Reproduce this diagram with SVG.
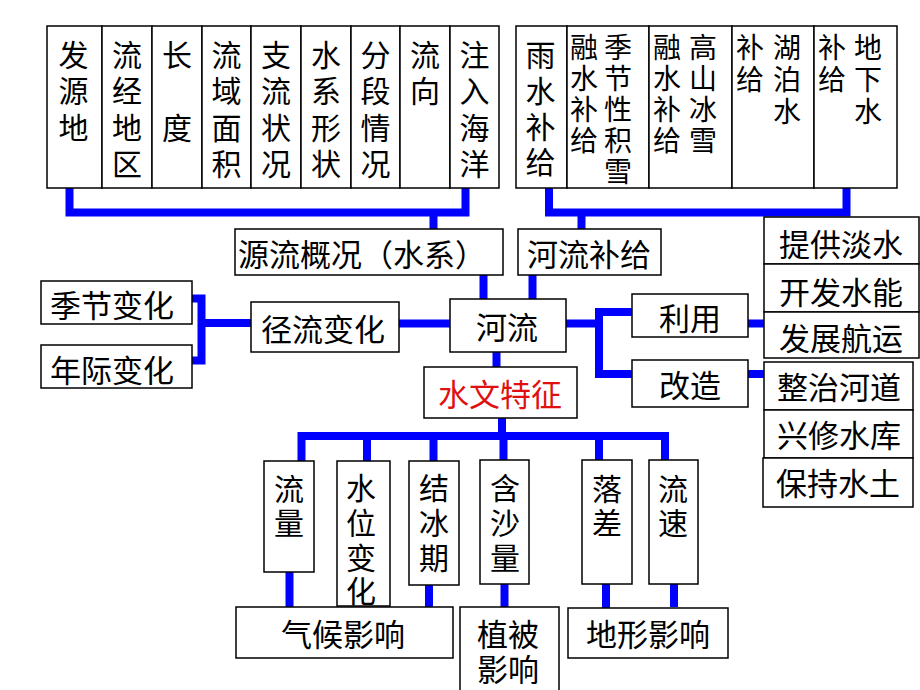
<svg xmlns="http://www.w3.org/2000/svg" width="920" height="690" viewBox="0 0 920 690">
<style>
.b{fill:#fff;stroke:#000;stroke-width:1.5}
.t{font-family:"Noto Sans CJK SC","Noto Sans CJK TC",sans-serif;fill:#000;text-anchor:middle;dominant-baseline:central}
.h{font-size:31px}
.v{font-size:30px}
.s{font-size:28px}
.c{fill:none;stroke:#0000ff;stroke-width:8;stroke-linejoin:miter;stroke-linecap:butt}
</style>
<rect width="920" height="690" fill="#fff"/>
<g id="connectors" class="c">
<path d="M69.5,188 V212.5 H465.5 V188"/>
<path d="M433.5,212.5 V229"/>
<path d="M549,188 V212.5 H846.5 V188"/>
<path d="M581.5,212.5 V229"/>
<path d="M483.5,275 V299"/>
<path d="M532.5,275 V299"/>
<path d="M399,323.5 H450"/>
<path d="M192,298.5 H201.5 V360.5 H192"/>
<path d="M201.5,323 H251"/>
<path d="M566,323.5 H599"/>
<path d="M632,312 H599 V374 H632"/>
<path d="M748,323.5 H764"/>
<path d="M748,374 H764"/>
<path d="M496.5,352 V367"/>
<path d="M502,418 V436"/>
<path d="M301.5,461 V436 H665 V461"/>
<path d="M367,436 V461"/>
<path d="M433.5,436 V461"/>
<path d="M503.5,436 V460"/>
<path d="M599,436 V460"/>
<path d="M289.5,572 V607"/>
<path d="M429,585 V607"/>
<path d="M504.5,584 V607"/>
<path d="M606,584 V608"/>
<path d="M674,584 V607"/>
</g>
<g id="n-fayuandi"><rect class="b" x="47" y="26" width="55" height="162"/><text class="t v" x="73.5"><tspan x="73.5" y="52.5">发</tspan><tspan x="73.5" y="89">源</tspan><tspan x="73.5" y="125.5">地</tspan></text></g>
<g id="n-liujing"><rect class="b" x="102" y="26" width="50" height="162"/><text class="t v"><tspan x="127" y="52.5">流</tspan><tspan x="127" y="89">经</tspan><tspan x="127" y="125.5">地</tspan><tspan x="127" y="162">区</tspan></text></g>
<g id="n-changdu"><rect class="b" x="152" y="26" width="50" height="162"/><text class="t v"><tspan x="177" y="52.5">长</tspan><tspan x="177" y="125.5">度</tspan></text></g>
<g id="n-liuyu"><rect class="b" x="202" y="26" width="49" height="162"/><text class="t v"><tspan x="226.5" y="52.5">流</tspan><tspan x="226.5" y="89">域</tspan><tspan x="226.5" y="125.5">面</tspan><tspan x="226.5" y="162">积</tspan></text></g>
<g id="n-zhiliu"><rect class="b" x="251" y="26" width="50" height="162"/><text class="t v"><tspan x="276" y="52.5">支</tspan><tspan x="276" y="89">流</tspan><tspan x="276" y="125.5">状</tspan><tspan x="276" y="162">况</tspan></text></g>
<g id="n-shuixi"><rect class="b" x="301" y="26" width="50" height="162"/><text class="t v"><tspan x="326" y="52.5">水</tspan><tspan x="326" y="89">系</tspan><tspan x="326" y="125.5">形</tspan><tspan x="326" y="162">状</tspan></text></g>
<g id="n-fenduan"><rect class="b" x="351" y="26" width="49" height="162"/><text class="t v"><tspan x="375.5" y="52.5">分</tspan><tspan x="375.5" y="89">段</tspan><tspan x="375.5" y="125.5">情</tspan><tspan x="375.5" y="162">况</tspan></text></g>
<g id="n-liuxiang"><rect class="b" x="400" y="26" width="50" height="162"/><text class="t v"><tspan x="425" y="52.5">流</tspan><tspan x="425" y="89">向</tspan></text></g>
<g id="n-zhuru"><rect class="b" x="450" y="26" width="49" height="162"/><text class="t v"><tspan x="474.5" y="52.5">注</tspan><tspan x="474.5" y="89">入</tspan><tspan x="474.5" y="125.5">海</tspan><tspan x="474.5" y="162">洋</tspan></text></g>
<g id="n-yushui"><rect class="b" x="516" y="26" width="51" height="162"/><text class="t v"><tspan x="540.5" y="52.5">雨</tspan><tspan x="540.5" y="89">水</tspan><tspan x="540.5" y="125">补</tspan><tspan x="540.5" y="160">给</tspan></text></g>
<g id="n-jijie"><rect class="b" x="567" y="26" width="82" height="162"/><text class="t s"><tspan x="584" y="46">融</tspan><tspan x="584" y="77">水</tspan><tspan x="584" y="108">补</tspan><tspan x="584" y="139">给</tspan></text><text class="t s"><tspan x="618" y="46">季</tspan><tspan x="618" y="77">节</tspan><tspan x="618" y="108">性</tspan><tspan x="618" y="139">积</tspan><tspan x="618" y="170">雪</tspan></text></g>
<g id="n-gaoshan"><rect class="b" x="649" y="26" width="83" height="162"/><text class="t s"><tspan x="667" y="46">融</tspan><tspan x="667" y="77">水</tspan><tspan x="667" y="108">补</tspan><tspan x="667" y="139">给</tspan></text><text class="t s"><tspan x="703" y="46">高</tspan><tspan x="703" y="77">山</tspan><tspan x="703" y="108">冰</tspan><tspan x="703" y="139">雪</tspan></text></g>
<g id="n-hubo"><rect class="b" x="732" y="26" width="82" height="162"/><text class="t s"><tspan x="750" y="46">补</tspan><tspan x="750" y="78">给</tspan></text><text class="t s"><tspan x="787" y="46">湖</tspan><tspan x="787" y="78">泊</tspan><tspan x="787" y="110">水</tspan></text></g>
<g id="n-dixia"><rect class="b" x="814" y="26" width="83" height="162"/><text class="t s"><tspan x="832" y="46">补</tspan><tspan x="832" y="78">给</tspan></text><text class="t s"><tspan x="868" y="46">地</tspan><tspan x="868" y="78">下</tspan><tspan x="868" y="110">水</tspan></text></g>
<g id="n-yuanliu"><rect class="b" x="235" y="229" width="268" height="46"/><text class="t h" x="362" y="252">源流概况（水系）</text></g>
<g id="n-buji"><rect class="b" x="518" y="229" width="143" height="46"/><text class="t h" x="589" y="252">河流补给</text></g>
<g id="n-heliu"><rect class="b" x="450" y="299" width="116" height="53"/><text class="t h" x="507" y="325">河流</text></g>
<g id="n-jingliu"><rect class="b" x="251" y="302" width="148" height="50"/><text class="t h" x="323" y="327">径流变化</text></g>
<g id="n-jijiebh"><rect class="b" x="41" y="281" width="151" height="43"/><text class="t h" x="112" y="303">季节变化</text></g>
<g id="n-nianji"><rect class="b" x="41" y="345" width="151" height="43"/><text class="t h" x="112" y="368">年际变化</text></g>
<g id="n-liyong"><rect class="b" x="632" y="294" width="116" height="43"/><text class="t h" x="690" y="316">利用</text></g>
<g id="n-gaizao"><rect class="b" x="632" y="360" width="116" height="47"/><text class="t h" x="690" y="383">改造</text></g>
<g id="n-tigong"><rect class="b" x="764" y="217" width="155" height="47"/><text class="t h" x="841" y="242">提供淡水</text></g>
<g id="n-kaifa"><rect class="b" x="764" y="264" width="155" height="48"/><text class="t h" x="841" y="290">开发水能</text></g>
<g id="n-hangyun"><rect class="b" x="764" y="312" width="155" height="46"/><text class="t h" x="841" y="336">发展航运</text></g>
<g id="n-zhengzhi"><rect class="b" x="764" y="362" width="149" height="48"/><text class="t h" x="839" y="385">整治河道</text></g>
<g id="n-xingxiu"><rect class="b" x="764" y="410" width="149" height="48"/><text class="t h" x="839" y="433">兴修水库</text></g>
<g id="n-baochi"><rect class="b" x="763" y="458" width="150" height="49"/><text class="t h" x="838" y="481">保持水土</text></g>
<g id="n-shuiwen"><rect class="b" x="424" y="367" width="153" height="51"/><text class="t h" x="500" y="392" style="fill:#e01010">水文特征</text></g>
<g id="n-liuliang"><rect class="b" x="264" y="461" width="50" height="111"/><text class="t v"><tspan x="289" y="487">流</tspan><tspan x="289" y="521">量</tspan></text></g>
<g id="n-shuiwei"><rect class="b" x="337" y="461" width="53" height="145"/><text class="t v"><tspan x="361" y="486">水</tspan><tspan x="361" y="521">位</tspan><tspan x="361" y="556">变</tspan><tspan x="361" y="589">化</tspan></text></g>
<g id="n-jiebing"><rect class="b" x="409" y="461" width="50" height="124"/><text class="t v"><tspan x="434" y="486">结</tspan><tspan x="434" y="521">冰</tspan><tspan x="434" y="556">期</tspan></text></g>
<g id="n-hansha"><rect class="b" x="480" y="460" width="49" height="124"/><text class="t v"><tspan x="505" y="486">含</tspan><tspan x="505" y="521">沙</tspan><tspan x="505" y="556">量</tspan></text></g>
<g id="n-luocha"><rect class="b" x="582" y="460" width="50" height="124"/><text class="t v"><tspan x="607" y="487">落</tspan><tspan x="607" y="521">差</tspan></text></g>
<g id="n-liusu"><rect class="b" x="649" y="460" width="49" height="124"/><text class="t v"><tspan x="673" y="487">流</tspan><tspan x="673" y="521">速</tspan></text></g>
<g id="n-qihou"><rect class="b" x="236" y="607" width="217" height="51"/><text class="t h" x="343" y="632">气候影响</text></g>
<g id="n-zhibei"><rect class="b" x="460" y="607" width="99" height="90"/><text class="t h"><tspan x="508" y="632">植被</tspan><tspan x="508" y="667">影响</tspan></text></g>
<g id="n-dixing"><rect class="b" x="568" y="608" width="160" height="50"/><text class="t h" x="648" y="632">地形影响</text></g>
</svg>
